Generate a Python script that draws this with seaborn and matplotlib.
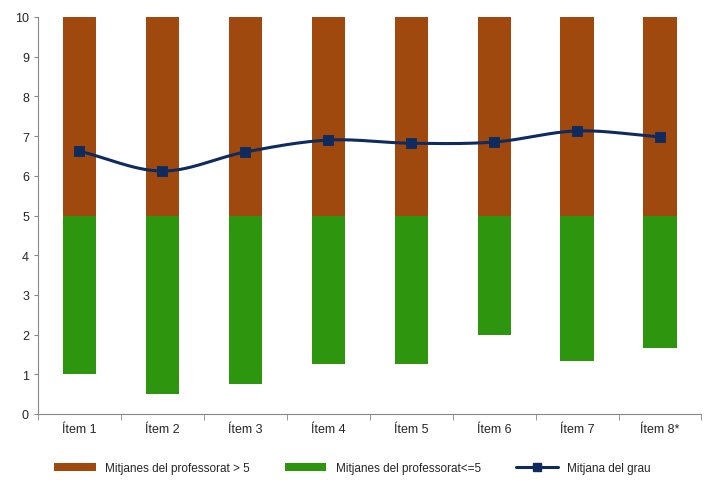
import matplotlib
matplotlib.use("Agg")
import matplotlib.pyplot as plt
import seaborn as sns
import numpy as np
import pandas as pd
from matplotlib.lines import Line2D
from matplotlib.patches import Patch

items = ["Ítem 1", "Ítem 2", "Ítem 3", "Ítem 4", "Ítem 5", "Ítem 6", "Ítem 7", "Ítem 8*"]
low_min = [1.0, 0.5, 0.75, 1.25, 1.25, 2.0, 1.33, 1.65]
mid = [5, 5, 5, 5, 5, 5, 5, 5]
high_max = [10, 10, 10, 10, 10, 10, 10, 10]
mean_grau = [6.62, 6.12, 6.6, 6.9, 6.82, 6.85, 7.13, 6.98]

brown = "#A0490F"
green = "#2E960E"
navy = "#0E2A5E"

sns.set_style("white")
plt.rcParams["font.family"] = ["Liberation Sans", "DejaVu Sans"]

fig = plt.figure(figsize=(7.05, 4.81), dpi=100)
ax = fig.add_axes([38 / 705, 1 - 415 / 481, 667 / 705 - 0.005, 397 / 481])

df = pd.DataFrame({"item": items, "low": low_min, "mid": mid, "high": high_max, "mean": mean_grau})
x = np.arange(len(items))
w = 0.4
ax.bar(x, df["mid"] - df["low"], bottom=df["low"], width=w, color=green, linewidth=0)
ax.bar(x, df["high"] - df["mid"], bottom=df["mid"], width=w, color=brown, linewidth=0)

# smoothed line (Catmull-Rom through the points)
pts = np.column_stack([x, df["mean"].values]).astype(float)
ext = np.vstack([2 * pts[0] - pts[1], pts, 2 * pts[-1] - pts[-2]])
curve = []
t = np.linspace(0, 1, 30)[:, None]
for i in range(1, len(ext) - 2):
    p0, p1, p2, p3 = ext[i - 1], ext[i], ext[i + 1], ext[i + 2]
    seg = 0.5 * ((2 * p1) + (-p0 + p2) * t + (2 * p0 - 5 * p1 + 4 * p2 - p3) * t ** 2
                 + (-p0 + 3 * p1 - 3 * p2 + p3) * t ** 3)
    curve.append(seg)
curve = np.vstack(curve)
ax.plot(curve[:, 0], curve[:, 1], color=navy, lw=2.2)
sns.scatterplot(x=x, y=df["mean"], ax=ax, marker="s", s=60, color=navy, edgecolor=navy, zorder=5)

ax.set_xlim(-0.5, len(items) - 0.5)
ax.set_ylim(0, 10)
ax.set_yticks(range(0, 11))
ax.set_xticks(x)
ax.set_xticklabels(items)
ax.tick_params(labelsize=9, length=3, color="#888888", left=True, bottom=False)
ax.set_xticks(np.arange(-0.5, len(items), 1), minor=True)
ax.tick_params(axis="x", which="minor", length=4, color="#888888", bottom=True)
ax.set_xlabel("")
ax.set_ylabel("")
for s in ["top", "right"]:
    ax.spines[s].set_visible(False)
for s in ["left", "bottom"]:
    ax.spines[s].set_color("#888888")

handles = [Patch(color=brown, linewidth=0), Patch(color=green, linewidth=0),
           Line2D([0], [0], color=navy, lw=2.2, marker="s", markersize=6)]
labels = ["Mitjanes del professorat > 5", "Mitjanes del professorat<=5", "Mitjana del grau"]
fig.legend(handles, labels, loc="lower center", ncol=3, frameon=False, fontsize=8.5,
           bbox_to_anchor=(0.5, -0.01), handlelength=3.5, handleheight=0.6, columnspacing=3)

fig.savefig("out.png", dpi=100)
